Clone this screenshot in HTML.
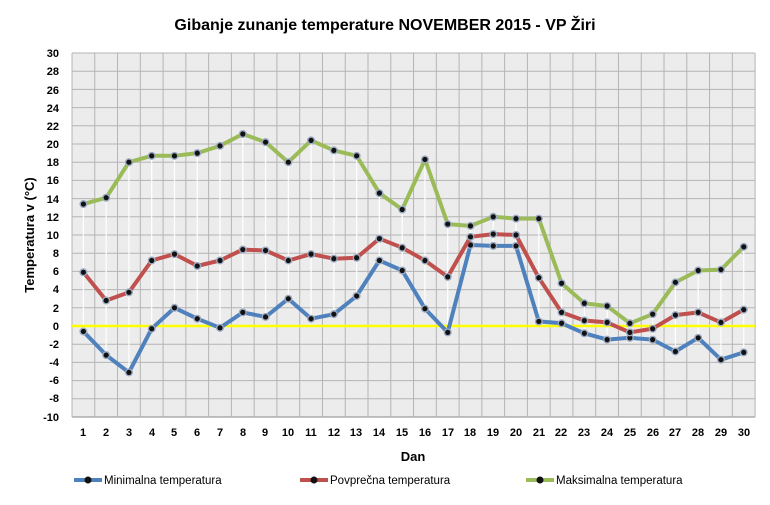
<!DOCTYPE html>
<html><head><meta charset="utf-8"><style>
body{margin:0;background:#fff;width:770px;height:505px;overflow:hidden}
svg{display:block;font-family:"Liberation Sans",Arial,sans-serif}
</style></head><body>
<svg id="c" width="770" height="505" viewBox="0 0 770 505">
<rect x="72" y="53" width="683" height="364" fill="#ececec"/>
<g id="grid" stroke="#b4b4b4" stroke-width="1"></g>
<g id="hl" stroke="#fff" stroke-width="1.2"></g>
<line x1="72" y1="326" x2="755" y2="326" stroke="#ffff00" stroke-width="2.5"/>
<g id="series"></g>
<text x="385" y="30" text-anchor="middle" font-size="16" font-weight="bold" fill="#000">Gibanje zunanje temperature NOVEMBER 2015 - VP Žiri</text>
<g font-size="11" font-weight="bold" text-anchor="end" fill="#000">
<text x="59" y="57">30</text><text x="59" y="75">28</text><text x="59" y="94">26</text><text x="59" y="112">24</text><text x="59" y="130">22</text><text x="59" y="148">20</text><text x="59" y="166">18</text><text x="59" y="184">16</text><text x="59" y="203">14</text><text x="59" y="221">12</text><text x="59" y="239">10</text><text x="59" y="257">8</text><text x="59" y="275">6</text><text x="59" y="293">4</text><text x="59" y="312">2</text><text x="59" y="330">0</text><text x="59" y="348">-2</text><text x="59" y="366">-4</text><text x="59" y="384">-6</text><text x="59" y="402">-8</text><text x="59" y="421">-10</text>
</g>
<g font-size="11" font-weight="bold" text-anchor="middle" fill="#000">
<text x="83" y="436">1</text><text x="106" y="436">2</text><text x="129" y="436">3</text><text x="152" y="436">4</text><text x="174" y="436">5</text><text x="197" y="436">6</text><text x="220" y="436">7</text><text x="243" y="436">8</text><text x="265" y="436">9</text><text x="288" y="436">10</text><text x="311" y="436">11</text><text x="334" y="436">12</text><text x="356" y="436">13</text><text x="379" y="436">14</text><text x="402" y="436">15</text><text x="425" y="436">16</text><text x="448" y="436">17</text><text x="470" y="436">18</text><text x="493" y="436">19</text><text x="516" y="436">20</text><text x="539" y="436">21</text><text x="561" y="436">22</text><text x="584" y="436">23</text><text x="607" y="436">24</text><text x="630" y="436">25</text><text x="653" y="436">26</text><text x="675" y="436">27</text><text x="698" y="436">28</text><text x="721" y="436">29</text><text x="744" y="436">30</text>
</g>
<text x="413" y="461" text-anchor="middle" font-size="13" font-weight="bold">Dan</text>
<text transform="translate(34,235) rotate(-90)" text-anchor="middle" font-size="13" font-weight="bold">Temperatura v (°C)</text>
<g font-size="11.5" fill="#000">
<line x1="74" y1="480" x2="102" y2="480" stroke="#4f81bd" stroke-width="4"/><circle cx="88" cy="480" r="3.5" fill="#111"/>
<text x="104" y="484">Minimalna temperatura</text>
<line x1="300" y1="480" x2="328" y2="480" stroke="#c0504d" stroke-width="4"/><circle cx="314" cy="480" r="3.5" fill="#111"/>
<text x="330" y="484">Povprečna temperatura</text>
<line x1="526" y1="480" x2="554" y2="480" stroke="#9bbb59" stroke-width="4"/><circle cx="540" cy="480" r="3.5" fill="#111"/>
<text x="556" y="484">Maksimalna temperatura</text>
</g>
</svg>
<script>
var ns="http://www.w3.org/2000/svg";
function el(p,t,a){var e=document.createElementNS(ns,t);for(var k in a)e.setAttribute(k,a[k]);p.appendChild(e);return e;}
var X=function(i){return 83.4+22.77*i}, Y=function(v){return 326-9.1*v};
var g=document.getElementById('grid');
for(var v=-10;v<=30;v+=2){el(g,'line',{x1:72,x2:755,y1:Y(v),y2:Y(v),stroke:v==-10?'#888':'#b4b4b4'});}
for(var i=0;i<=30;i++){var x=72+22.77*i;el(g,'line',{x1:x,x2:x,y1:53,y2:417});}
var mx=[13.4,14.1,18,18.7,18.7,19,19.8,21.1,20.2,18,20.4,19.3,18.7,14.6,12.8,18.3,11.2,11,12,11.8,11.8,4.7,2.5,2.2,0.3,1.3,4.8,6.1,6.2,8.7];
var av=[5.9,2.8,3.7,7.2,7.9,6.6,7.2,8.4,8.3,7.2,7.9,7.4,7.5,9.6,8.6,7.2,5.4,9.8,10.1,10,5.3,1.5,0.6,0.4,-0.7,-0.3,1.2,1.5,0.4,1.8];
var mn=[-0.6,-3.2,-5.1,-0.3,2,0.8,-0.2,1.5,1,3,0.8,1.3,3.3,7.2,6.1,1.9,-0.7,8.9,8.8,8.8,0.5,0.3,-0.8,-1.5,-1.3,-1.5,-2.8,-1.3,-3.7,-2.9];
var hl=document.getElementById('hl');
for(var i=0;i<30;i++)el(hl,'line',{x1:X(i),x2:X(i),y1:Y(mx[i]),y2:Y(mn[i])});
var s=document.getElementById('series');
[[mn,'#4f81bd'],[av,'#c0504d'],[mx,'#9bbb59']].forEach(function(d){
 var pts=d[0].map(function(v,i){return X(i).toFixed(1)+','+Y(v).toFixed(1)}).join(' ');
 el(s,'polyline',{points:pts,fill:'none',stroke:d[1],'stroke-width':4,'stroke-linejoin':'round'});
 d[0].forEach(function(v,i){el(s,'circle',{cx:X(i),cy:Y(v),r:4,fill:'#9aa8c0'});el(s,'circle',{cx:X(i),cy:Y(v),r:2.6,fill:'#111'});});
});
</script>
</body></html>
